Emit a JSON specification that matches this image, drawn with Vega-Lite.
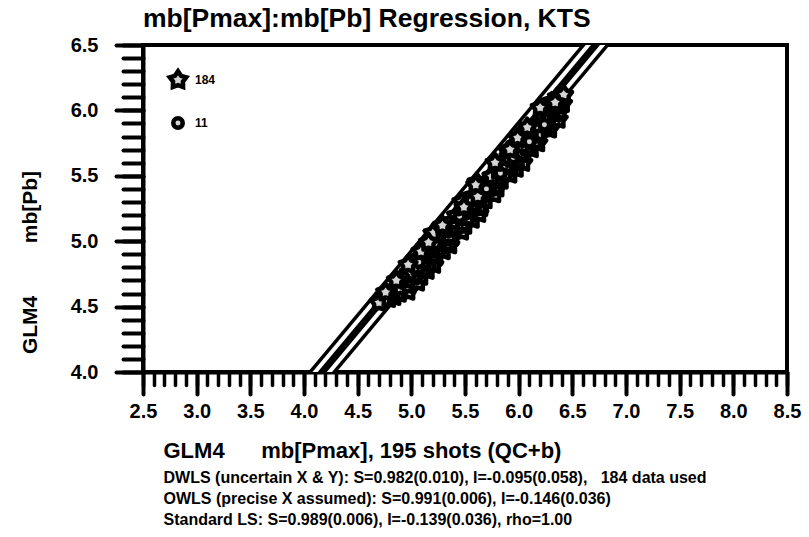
{
  "$schema": "https://vega.github.io/schema/vega-lite/v6.json",
  "width": 644,
  "height": 327,
  "autosize": {"type": "none"},
  "padding": {"left": 143, "top": 45, "right": 22, "bottom": 165},
  "background": "white",
  "title": {
    "text": "mb[Pmax]:mb[Pb] Regression, KTS",
    "anchor": "start",
    "frame": "group",
    "font": "Liberation Sans",
    "fontSize": 26.5,
    "fontWeight": "bold",
    "color": "black",
    "offset": 3
  },
  "datasets": {
    "fit": [
      {"x": 4.0, "y": 3.833},
      {"x": 7.0, "y": 6.779}
    ],
    "pts": [
      {"x": 4.70, "y": 4.53, "type": "star"},
      {"x": 4.79, "y": 4.56, "type": "star"},
      {"x": 4.84, "y": 4.575, "type": "star"},
      {"x": 4.89, "y": 4.60, "type": "star"},
      {"x": 4.97, "y": 4.615, "type": "star"},
      {"x": 4.83, "y": 4.63, "type": "star"},
      {"x": 4.90, "y": 4.645, "type": "star"},
      {"x": 4.98, "y": 4.66, "type": "star"},
      {"x": 5.06, "y": 4.685, "type": "star"},
      {"x": 4.96, "y": 4.70, "type": "star"},
      {"x": 4.91, "y": 4.715, "type": "star"},
      {"x": 5.09, "y": 4.73, "type": "star"},
      {"x": 5.04, "y": 4.745, "type": "star"},
      {"x": 4.98, "y": 4.76, "type": "star"},
      {"x": 5.15, "y": 4.775, "type": "star"},
      {"x": 5.11, "y": 4.79, "type": "star"},
      {"x": 5.06, "y": 4.805, "type": "star"},
      {"x": 5.21, "y": 4.82, "type": "star"},
      {"x": 5.17, "y": 4.835, "type": "star"},
      {"x": 5.11, "y": 4.85, "type": "star"},
      {"x": 5.06, "y": 4.865, "type": "star"},
      {"x": 5.23, "y": 4.88, "type": "star"},
      {"x": 5.19, "y": 4.895, "type": "star"},
      {"x": 5.13, "y": 4.91, "type": "star"},
      {"x": 5.30, "y": 4.925, "type": "star"},
      {"x": 5.25, "y": 4.94, "type": "star"},
      {"x": 5.20, "y": 4.955, "type": "star"},
      {"x": 5.36, "y": 4.97, "type": "star"},
      {"x": 5.32, "y": 4.985, "type": "star"},
      {"x": 5.26, "y": 5.00, "type": "star"},
      {"x": 5.23, "y": 5.015, "type": "star"},
      {"x": 5.38, "y": 5.03, "type": "star"},
      {"x": 5.35, "y": 5.045, "type": "star"},
      {"x": 5.20, "y": 5.06, "type": "star"},
      {"x": 5.47, "y": 5.075, "type": "star"},
      {"x": 5.39, "y": 5.09, "type": "star"},
      {"x": 5.37, "y": 5.105, "type": "star"},
      {"x": 5.50, "y": 5.12, "type": "star"},
      {"x": 5.48, "y": 5.135, "type": "star"},
      {"x": 5.38, "y": 5.15, "type": "star"},
      {"x": 5.57, "y": 5.165, "type": "star"},
      {"x": 5.52, "y": 5.18, "type": "star"},
      {"x": 5.42, "y": 5.195, "type": "star"},
      {"x": 5.63, "y": 5.21, "type": "star"},
      {"x": 5.55, "y": 5.225, "type": "star"},
      {"x": 5.52, "y": 5.24, "type": "star"},
      {"x": 5.65, "y": 5.255, "type": "star"},
      {"x": 5.64, "y": 5.27, "type": "star"},
      {"x": 5.57, "y": 5.285, "type": "star"},
      {"x": 5.47, "y": 5.30, "type": "star"},
      {"x": 5.69, "y": 5.315, "type": "star"},
      {"x": 5.64, "y": 5.33, "type": "star"},
      {"x": 5.58, "y": 5.345, "type": "star"},
      {"x": 5.77, "y": 5.36, "type": "star"},
      {"x": 5.69, "y": 5.375, "type": "star"},
      {"x": 5.66, "y": 5.39, "type": "star"},
      {"x": 5.80, "y": 5.405, "type": "star"},
      {"x": 5.78, "y": 5.42, "type": "star"},
      {"x": 5.73, "y": 5.435, "type": "star"},
      {"x": 5.61, "y": 5.45, "type": "star"},
      {"x": 5.84, "y": 5.465, "type": "star"},
      {"x": 5.80, "y": 5.48, "type": "star"},
      {"x": 5.75, "y": 5.495, "type": "star"},
      {"x": 5.92, "y": 5.51, "type": "star"},
      {"x": 5.87, "y": 5.525, "type": "star"},
      {"x": 5.81, "y": 5.54, "type": "star"},
      {"x": 5.98, "y": 5.555, "type": "star"},
      {"x": 5.92, "y": 5.57, "type": "star"},
      {"x": 5.88, "y": 5.585, "type": "star"},
      {"x": 6.04, "y": 5.60, "type": "star"},
      {"x": 5.99, "y": 5.615, "type": "star"},
      {"x": 5.94, "y": 5.63, "type": "star"},
      {"x": 5.91, "y": 5.645, "type": "star"},
      {"x": 6.05, "y": 5.66, "type": "star"},
      {"x": 6.02, "y": 5.675, "type": "star"},
      {"x": 5.90, "y": 5.69, "type": "star"},
      {"x": 6.12, "y": 5.705, "type": "star"},
      {"x": 6.08, "y": 5.72, "type": "star"},
      {"x": 6.03, "y": 5.735, "type": "star"},
      {"x": 6.18, "y": 5.75, "type": "star"},
      {"x": 6.15, "y": 5.765, "type": "star"},
      {"x": 6.08, "y": 5.78, "type": "star"},
      {"x": 6.07, "y": 5.795, "type": "star"},
      {"x": 6.19, "y": 5.81, "type": "star"},
      {"x": 6.18, "y": 5.825, "type": "star"},
      {"x": 6.12, "y": 5.84, "type": "star"},
      {"x": 6.29, "y": 5.855, "type": "star"},
      {"x": 6.29, "y": 5.87, "type": "star"},
      {"x": 6.19, "y": 5.885, "type": "star"},
      {"x": 6.25, "y": 5.90, "type": "star"},
      {"x": 6.30, "y": 5.915, "type": "star"},
      {"x": 6.37, "y": 5.93, "type": "star"},
      {"x": 6.23, "y": 5.945, "type": "star"},
      {"x": 6.28, "y": 5.96, "type": "star"},
      {"x": 6.33, "y": 5.975, "type": "star"},
      {"x": 6.38, "y": 5.99, "type": "star"},
      {"x": 6.26, "y": 6.005, "type": "star"},
      {"x": 6.32, "y": 6.02, "type": "star"},
      {"x": 6.37, "y": 6.035, "type": "star"},
      {"x": 6.41, "y": 6.05, "type": "star"},
      {"x": 6.31, "y": 6.065, "type": "star"},
      {"x": 6.38, "y": 6.08, "type": "star"},
      {"x": 6.36, "y": 6.10, "type": "star"},
      {"x": 6.42, "y": 6.12, "type": "star"},
      {"x": 4.93, "y": 4.72, "type": "G"},
      {"x": 5.07, "y": 4.84, "type": "G"},
      {"x": 5.22, "y": 4.98, "type": "G"},
      {"x": 5.33, "y": 5.08, "type": "G"},
      {"x": 5.45, "y": 5.19, "type": "G"},
      {"x": 5.56, "y": 5.31, "type": "G"},
      {"x": 5.70, "y": 5.40, "type": "G"},
      {"x": 5.83, "y": 5.52, "type": "G"},
      {"x": 5.95, "y": 5.64, "type": "G"},
      {"x": 6.10, "y": 5.76, "type": "G"},
      {"x": 6.24, "y": 5.89, "type": "G"},
      {"x": 4.76, "y": 4.61, "type": "star"},
      {"x": 4.86, "y": 4.70, "type": "star"},
      {"x": 4.97, "y": 4.82, "type": "star"},
      {"x": 5.09, "y": 4.92, "type": "star"},
      {"x": 5.16, "y": 4.99, "type": "star"},
      {"x": 5.29, "y": 5.12, "type": "star"},
      {"x": 5.49, "y": 5.26, "type": "star"},
      {"x": 5.62, "y": 5.34, "type": "star"},
      {"x": 5.60, "y": 5.43, "type": "star"},
      {"x": 5.78, "y": 5.60, "type": "star"},
      {"x": 5.92, "y": 5.70, "type": "star"},
      {"x": 5.99, "y": 5.79, "type": "star"},
      {"x": 6.08, "y": 5.87, "type": "star"},
      {"x": 6.20, "y": 6.02, "type": "star"},
      {"x": 6.34, "y": 6.06, "type": "star"}
    ]
  },
  "layer": [
    {
      "data": {"name": "fit"},
      "mark": {"type": "line", "color": "black", "strokeWidth": 22, "clip": true},
      "encoding": {
        "x": {
          "field": "x", "type": "quantitative",
          "scale": {"domain": [2.5, 8.5], "nice": false, "zero": false},
          "axis": {
            "orient": "bottom",
            "values": [2.5,2.6,2.7,2.8,2.9,3.0,3.1,3.2,3.3,3.4,3.5,3.6,3.7,3.8,3.9,4.0,4.1,4.2,4.3,4.4,4.5,4.6,4.7,4.8,4.9,5.0,5.1,5.2,5.3,5.4,5.5,5.6,5.7,5.8,5.9,6.0,6.1,6.2,6.3,6.4,6.5,6.6,6.7,6.8,6.9,7.0,7.1,7.2,7.3,7.4,7.5,7.6,7.7,7.8,7.9,8.0,8.1,8.2,8.3,8.4,8.5],
            "labels": false,
            "domain": false,
            "grid": false,
            "ticks": true,
            "tickSize": 13,
            "tickWidth": 3.5,
            "tickColor": "black",
            "tickCap": "round",
            "title": [
              "DWLS (uncertain X & Y): S=0.982(0.010), I=-0.095(0.058),\u00a0\u00a0\u00a0184 data used",
              "OWLS (precise X assumed): S=0.991(0.006), I=-0.146(0.036)",
              "Standard LS: S=0.989(0.006), I=-0.139(0.036), rho=1.00"
            ],
            "titleFont": "Liberation Sans",
            "titleFontSize": 16,
            "titleFontWeight": "bold",
            "titleColor": "black",
            "titleAlign": "left",
            "titleAnchor": "start",
            "titleBaseline": "top",
            "titleLineHeight": 21,
            "titleX": 20,
            "titleY": 97
          }
        },
        "y": {
          "field": "y", "type": "quantitative",
          "scale": {"domain": [4.0, 6.5], "nice": false, "zero": false},
          "axis": {
            "orient": "left",
            "values": [4.0,4.1,4.2,4.3,4.4,4.5,4.6,4.7,4.8,4.9,5.0,5.1,5.2,5.3,5.4,5.5,5.6,5.7,5.8,5.9,6.0,6.1,6.2,6.3,6.4,6.5],
            "labels": false,
            "domain": false,
            "grid": false,
            "tickSize": 20,
            "tickWidth": 4,
            "tickColor": "black",
            "tickCap": "round",
            "title": null
          }
        }
      }
    },
    {
      "data": {"name": "fit"},
      "mark": {"type": "line", "color": "white", "strokeWidth": 15, "clip": true},
      "encoding": {
        "x": {"field": "x", "type": "quantitative", "axis": null},
        "y": {"field": "y", "type": "quantitative", "axis": null}
      }
    },
    {
      "data": {"name": "fit"},
      "mark": {"type": "line", "color": "black", "strokeWidth": 7, "clip": true},
      "encoding": {
        "x": {"field": "x", "type": "quantitative", "axis": null},
        "y": {"field": "y", "type": "quantitative", "axis": null}
      }
    },
    {
      "data": {"name": "pts"},
      "mark": {"type": "point", "filled": true, "fill": "#d4d4d4", "stroke": "black", "strokeWidth": 4.5, "strokeJoin": "round", "opacity": 1, "clip": true},
      "encoding": {
        "x": {
          "field": "x", "type": "quantitative",
          "axis": {
            "orient": "bottom",
            "values": [2.5,3.0,3.5,4.0,4.5,5.0,5.5,6.0,6.5,7.0,7.5,8.0,8.5],
            "format": ".1f",
            "grid": false,
            "domain": true,
            "domainColor": "black",
            "domainWidth": 4,
            "tickSize": 22,
            "tickWidth": 4,
            "tickColor": "black",
            "tickCap": "round",
            "labelFont": "Liberation Sans",
            "labelFontSize": 20,
            "labelFontWeight": "bold",
            "labelColor": "black",
            "labelPadding": 7,
            "labelFlush": false,
            "labelOverlap": false,
            "title": "GLM4\u00a0\u00a0\u00a0\u00a0\u00a0\u00a0mb[Pmax], 195 shots (QC+b)",
            "titleFont": "Liberation Sans",
            "titleFontSize": 22,
            "titleFontWeight": "bold",
            "titleColor": "black",
            "titleAlign": "left",
            "titleAnchor": "start",
            "titleBaseline": "alphabetic",
            "titleX": 20,
            "titleY": 85
          }
        },
        "y": {
          "field": "y", "type": "quantitative",
          "axis": {
            "orient": "left",
            "values": [4.0,4.5,5.0,5.5,6.0,6.5],
            "format": ".1f",
            "grid": false,
            "domain": true,
            "domainColor": "black",
            "domainWidth": 4,
            "tickSize": 27,
            "tickWidth": 4,
            "tickColor": "black",
            "tickCap": "round",
            "labelFont": "Liberation Sans",
            "labelFontSize": 20,
            "labelFontWeight": "bold",
            "labelColor": "black",
            "labelPadding": 18,
            "labelFlush": false,
            "labelOverlap": false,
            "title": "GLM4\u00a0\u00a0\u00a0\u00a0\u00a0\u00a0\u00a0\u00a0\u00a0mb[Pb]",
            "titleFont": "Liberation Sans",
            "titleFontSize": 21,
            "titleFontWeight": "bold",
            "titleColor": "black",
            "titleAngle": -90,
            "titleAlign": "center",
            "titleBaseline": "middle",
            "titleX": -113,
            "titleY": 217
          }
        },
        "shape": {
          "field": "type", "type": "nominal",
          "scale": {"domain": ["star", "G"], "range": ["M0,-1L0.353,-0.485L0.951,-0.309L0.571,0.185L0.588,0.809L0,0.6L-0.588,0.809L-0.571,0.185L-0.951,-0.309L-0.353,-0.485Z", "circle"]},
          "legend": {
            "orient": "top-left",
            "offset": 24,
            "padding": 0,
            "title": null,
            "rowPadding": 12,
            "labelExpr": "datum.label == 'star' ? '184' : '11'",
            "labelFont": "Liberation Sans",
            "labelFontSize": 12,
            "labelFontWeight": "bold",
            "labelColor": "black",
            "labelOffset": 6,
            "symbolFillColor": "#d4d4d4",
            "symbolStrokeColor": "black",
            "symbolStrokeWidth": 4.5
          }
        },
        "size": {
          "field": "type", "type": "nominal",
          "scale": {"domain": ["star", "G"], "range": [300, 90]},
          "legend": {
            "orient": "top-left",
            "title": null
          }
        }
      }
    }
  ],
  "resolve": {"axis": {"x": "independent", "y": "independent"}},
  "config": {
    "view": {"stroke": "black", "strokeWidth": 4},
    "font": "Liberation Sans"
  }
}
